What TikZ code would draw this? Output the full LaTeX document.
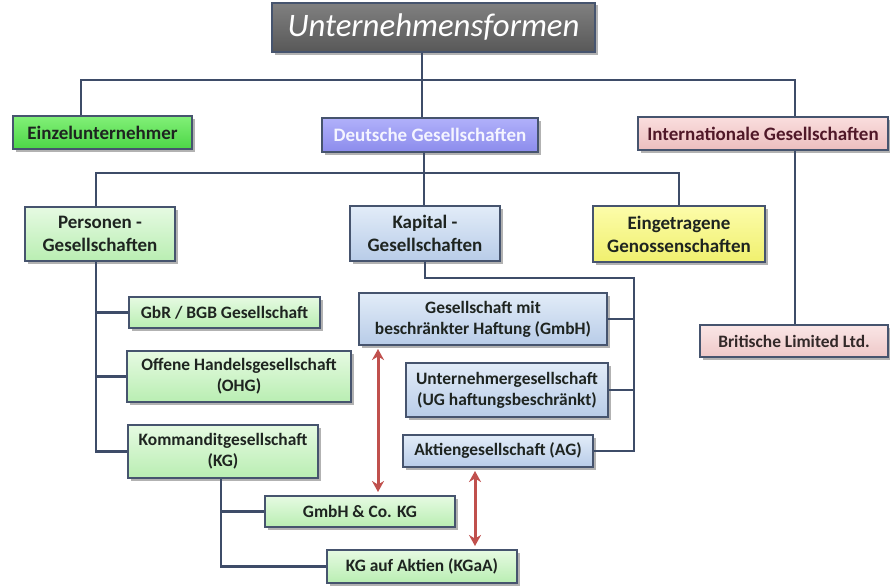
\documentclass[tikz,border=0pt]{standalone}
\usepackage{fontspec}
\setmainfont{Carlito}
\usetikzlibrary{shadows,arrows.meta}
\definecolor{lncol}{HTML}{3E4C68}
\definecolor{boxline}{HTML}{46546E}
\definecolor{txt}{HTML}{1E2420}
\definecolor{arrred}{HTML}{C0504D}
\definecolor{greentop}{HTML}{E6FAE2}
\definecolor{greenbot}{HTML}{B9EEB2}
\definecolor{bluetop}{HTML}{E2ECF8}
\definecolor{bluebot}{HTML}{B8CCE8}
\tikzset{
  box/.style={rectangle, draw=boxline, line width=2pt, align=center, inner sep=0pt,
    text=txt, font=\bfseries\fontsize{17.4}{21}\selectfont,
    drop shadow={shadow xshift=2.5pt, shadow yshift=-2.5pt, fill=black, opacity=0.3}},
  bigtext/.style={font=\bfseries\fontsize{19}{23}\selectfont},
  greenbox/.style={box, top color=greentop, bottom color=greenbot},
  bluebox/.style={box, top color=bluetop, bottom color=bluebot},
  conn/.style={draw=lncol, line width=2.2pt},
  redarr/.style={draw=arrred, line width=3pt, {Stealth[length=11pt,width=12pt]}-{Stealth[length=11pt,width=12pt]}, shorten <=3pt, shorten >=3pt},
}
\begin{document}
\begin{tikzpicture}[x=1pt,y=-1pt]
\fill[white] (0,0) rectangle (890,586);
\useasboundingbox (0,0) rectangle (890,586);
% nodes
\node[box, top color={rgb,255:red,128;green,128;blue,128}, bottom color={rgb,255:red,88;green,88;blue,88},
  minimum width=323pt, minimum height=49pt, text=white,
  font=\itshape\fontsize{32.8}{38}\selectfont] (title) at (433.5,27.5) {Unternehmensformen};
\node[box, bigtext, top color={rgb,255:red,130;green,240;blue,120}, bottom color={rgb,255:red,76;green,214;blue,70},
  minimum width=179pt, minimum height=33pt] (einz) at (102.5,132.5) {Einzelunternehmer};
\node[box, bigtext, top color={rgb,255:red,176;green,176;blue,250}, bottom color={rgb,255:red,140;green,140;blue,236},
  minimum width=216pt, minimum height=34pt, text={rgb,255:red,244;green,244;blue,255}] (deu) at (430,135) {Deutsche Gesellschaften};
\node[box, bigtext, top color={rgb,255:red,250;green,222;blue,222}, bottom color={rgb,255:red,236;green,190;blue,190},
  minimum width=250pt, minimum height=33pt, text={rgb,255:red,80;green,24;blue,40}] (intl) at (763,133.5) {Internationale Gesellschaften};
\node[greenbox, bigtext, minimum width=150pt, minimum height=54pt] (pers) at (100,234) {Personen -\\Gesellschaften};
\node[bluebox, bigtext, minimum width=150pt, minimum height=55pt] (kap) at (425,233.5) {Kapital -\\Gesellschaften};
\node[box, bigtext, top color={rgb,255:red,252;green,252;blue,170}, bottom color={rgb,255:red,240;green,240;blue,110},
  minimum width=172pt, minimum height=56pt] (eing) at (679,234) {Eingetragene\\Genossenschaften};
\node[greenbox, minimum width=191pt, minimum height=31pt] (gbr) at (224.5,312.5) {GbR / BGB Gesellschaft};
\node[greenbox, minimum width=224pt, minimum height=51pt] (ohg) at (239,376.5) {Offene Handelsgesellschaft\\(OHG)};
\node[greenbox, minimum width=190pt, minimum height=53pt] (kg) at (223,451.5) {Kommanditgesellschaft\\(KG)};
\node[bluebox, minimum width=248pt, minimum height=52pt] (gmbh) at (483,319) {Gesellschaft mit\\beschränkter Haftung (GmbH)};
\node[bluebox, minimum width=202pt, minimum height=54pt] (ug) at (507,390) {Unternehmergesellschaft\\(UG haftungsbeschränkt)};
\node[bluebox, minimum width=190pt, minimum height=32pt] (ag) at (498,451) {Aktiengesellschaft (AG)};
\node[greenbox, minimum width=190pt, minimum height=31pt] (gco) at (360,511.5) {GmbH \& Co. KG};
\node[greenbox, minimum width=190pt, minimum height=33pt] (kgaa) at (422,566.5) {KG auf Aktien (KGaA)};
\node[box, top color={rgb,255:red,250;green,230;blue,230}, bottom color={rgb,255:red,238;green,200;blue,200},
  minimum width=188pt, minimum height=32pt, text={rgb,255:red,50;green,40;blue,40}] (brit) at (794,341) {Britische Limited Ltd.};
% junction coordinates
\coordinate (t1) at (422,80);
\coordinate (t1l) at (81,80);
\coordinate (t1r) at (795,80);
\coordinate (t2) at (424,173);
\coordinate (t2l) at (96,173);
\coordinate (t2r) at (679,173);
\coordinate (k1) at (425,278);
\coordinate (k2) at (634,278);
\coordinate (s1) at (221,0);
\coordinate (a1) at (378,0);
\coordinate (a2) at (475,0);
% connectors
\draw[conn] (title.south -| t1) -- (deu.north -| t1);
\draw[conn] (einz.north -| t1l) -- (t1l) -- (t1r) -- (intl.north -| t1r);
\draw[conn] (intl.south -| t1r) -- (brit.north -| t1r);
\draw[conn] (deu.south -| t2) -- (kap.north -| t2);
\draw[conn] (pers.north -| t2l) -- (t2l) -- (t2r) -- (eing.north -| t2r);
\draw[conn] (pers.south -| t2l) |- (kg.west);
\draw[conn] (gbr.west -| t2l) -- (gbr.west);
\draw[conn] (ohg.west -| t2l) -- (ohg.west);
\draw[conn] (kap.south -| k1) -- (k1) -- (k2) |- (ag.east);
\draw[conn] (gmbh.east) -- (gmbh.east -| k2);
\draw[conn] (ug.east) -- (ug.east -| k2);
\draw[conn] (kg.south -| s1) |- (kgaa.west);
\draw[conn] (gco.west -| s1) -- (gco.west);
\draw[redarr] (gmbh.south -| a1) -- (gco.north -| a1);
\draw[redarr] (ag.south -| a2) -- (kgaa.north -| a2);
\end{tikzpicture}
\end{document}
